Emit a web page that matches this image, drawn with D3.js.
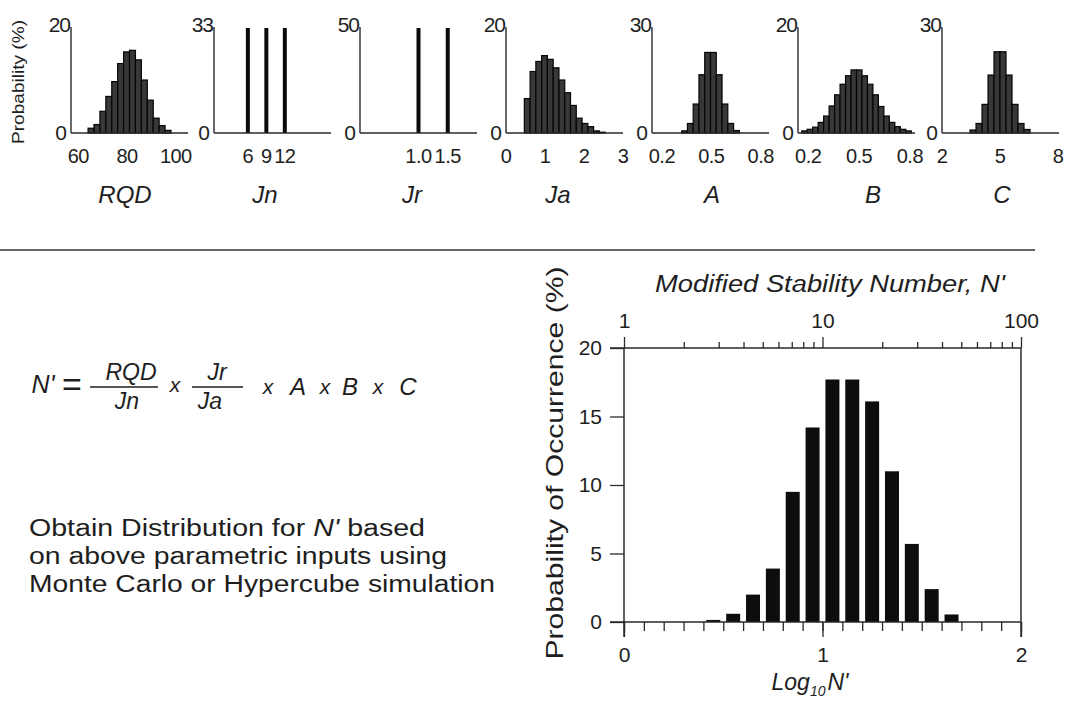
<!DOCTYPE html>
<html>
<head>
<meta charset="utf-8">
<script src="https://cdn.jsdelivr.net/npm/d3@7"></script>
<style>
  body { margin: 0; background: #fff; }
  svg { font-family: "Liberation Sans", Arial, sans-serif; }
  text { fill: #1e1e1e; }
</style>
</head>
<body>
<div id="chart"></div>
<script>
// ---- input distributions (top row) ----
var panelNames = ["RQD", "Jn", "Jr", "Ja", "A", "B", "C"];
var panelYMax = [20, 33, 50, 20, 30, 20, 30];
var panelTicks = [[60, 80, 100], [6, 9, 12], [1.0, 1.5], [0, 1, 2, 3], [0.2, 0.5, 0.8], [0.2, 0.5, 0.8], [2, 5, 8]];
var panelTickLabels = [["60", "80", "100"], ["6", "9", "12"], ["1.0", "1.5"], ["0", "1", "2", "3"], ["0.2", "0.5", "0.8"], ["0.2", "0.5", "0.8"], ["2", "5", "8"]];

var rqdStart = 64, rqdWidth = 2.43;
var rqdValues = [0.9, 1.6, 4.1, 6.9, 9.7, 13.1, 15.3, 15.6, 13.8, 10.0, 6.2, 2.8, 1.4, 0.5];
var jnValues = [6, 9, 12];
var jnProb = [33, 33, 33];
var jrValues = [1.0, 1.5];
var jrProb = [50, 50];
var jaStart = 0.47, jaWidth = 0.148;
var jaValues = [6.5, 11.6, 13.5, 14.6, 13.9, 12.3, 10.0, 7.6, 5.2, 2.8, 1.8, 1.2, 0.4, 0.15];
var aStart = 0.32, aWidth = 0.035;
var aValues = [0.6, 2.7, 8.2, 16.5, 22.8, 22.8, 16.5, 8.2, 2.7, 0.7];
var bStart = 0.162, bWidth = 0.0323;
var bValues = [0.4, 0.7, 1.1, 2.0, 3.2, 5.1, 7.2, 9.2, 10.8, 11.9, 11.9, 10.8, 9.2, 7.2, 5.0, 3.2, 2.0, 1.2, 0.7, 0.4];
var cStart = 3.45, cWidth = 0.31;
var cValues = [0.85, 2.7, 8.1, 16.4, 23.0, 23.0, 16.4, 8.1, 2.7, 1.0];

// ---- resulting distribution of N' (main chart) ----
var nBinStart = 0.4, nBinWidth = 0.1;
var nValues = [0.15, 0.6, 2.0, 3.9, 9.5, 14.2, 17.7, 17.7, 16.1, 11.0, 5.7, 2.4, 0.55];
var nYTicks = [0, 5, 10, 15, 20];
var nXTicks = [0, 1, 2];
var nTopTicks = [1, 10, 100];

// layout (pixels)
var panelLeft = [71, 214, 360, 506, 652, 798, 942];
var panelWidth = 117, panelTop = 27, panelBase = 133;
var panelDomains = [[57, 105], [0.5, 19.5], [0, 2], [0, 3], [0.14, 0.85], [0.14, 0.83], [2, 8.05]];
var nameX = [125, 265, 412, 558, 712, 873, 1002];

var ink = "#1e1e1e", lineCol = "#2a2a2a";

var svg = d3.select("#chart").append("svg")
	.attr("width", 1066)
	.attr("height", 702);

// histogram / spike descriptions built from the arrays above
var hist = {
	RQD: {start: rqdStart, width: rqdWidth, values: rqdValues},
	Ja: {start: jaStart, width: jaWidth, values: jaValues},
	A: {start: aStart, width: aWidth, values: aValues},
	B: {start: bStart, width: bWidth, values: bValues},
	C: {start: cStart, width: cWidth, values: cValues}
};
var spikes = {
	Jn: {x: jnValues, p: jnProb},
	Jr: {x: jrValues, p: jrProb}
};

panelNames.forEach(function(name, i) {
	var x = d3.scaleLinear().domain(panelDomains[i]).range([panelLeft[i], panelLeft[i] + panelWidth]);
	var y = d3.scaleLinear().domain([0, panelYMax[i]]).range([panelBase, panelTop]);
	var g = svg.append("g").attr("class", "panel");

	if (hist[name]) {
		var h = hist[name];
		g.selectAll("rect")
			.data(h.values)
			.enter()
			.append("rect")
			.attr("x", function(d, k) { return x(h.start + k * h.width); })
			.attr("width", function(d, k) { return x(h.start + (k + 1) * h.width) - x(h.start + k * h.width); })
			.attr("y", function(d) { return y(d); })
			.attr("height", function(d) { return y(0) - y(d); })
			.attr("fill", "#383838")
			.attr("stroke", "#050505")
			.attr("stroke-width", 1.2);
	} else {
		var s = spikes[name];
		g.selectAll("line.spike")
			.data(s.x)
			.enter()
			.append("line")
			.attr("class", "spike")
			.attr("x1", function(d) { return x(d); })
			.attr("x2", function(d) { return x(d); })
			.attr("y1", y(0))
			.attr("y2", function(d, k) { return y(s.p[k]) + 1; })
			.attr("stroke", "#0a0a0a")
			.attr("stroke-width", 4);
	}

	// axes
	g.append("line")
		.attr("x1", x.range()[0]).attr("x2", x.range()[0])
		.attr("y1", y(panelYMax[i])).attr("y2", y(0))
		.attr("stroke", lineCol).attr("stroke-width", 1.4);
	g.append("line")
		.attr("x1", x.range()[0]).attr("x2", x.range()[1])
		.attr("y1", y(0)).attr("y2", y(0))
		.attr("stroke", lineCol).attr("stroke-width", 1.4);

	// y labels: max and zero
	g.append("text")
		.attr("x", x.range()[0] - 1)
		.attr("y", y(panelYMax[i]) - 2)
		.attr("dy", "0.35em")
		.attr("text-anchor", "end")
		.attr("font-size", 21)
		.attr("letter-spacing", -1)
		.text(panelYMax[i]);
	g.append("text")
		.attr("x", x.range()[0] - 4)
		.attr("y", y(0))
		.attr("dy", "0.35em")
		.attr("text-anchor", "end")
		.attr("font-size", 21)
		.text("0");

	// x tick labels
	g.selectAll("text.tick")
		.data(panelTicks[i])
		.enter()
		.append("text")
		.attr("class", "tick")
		.attr("x", function(d) { return x(d); })
		.attr("y", 163)
		.attr("text-anchor", "middle")
		.attr("font-size", 20)
		.attr("letter-spacing", -0.5)
		.text(function(d, k) { return panelTickLabels[i][k]; });

	// variable name
	g.append("text")
		.attr("x", nameX[i])
		.attr("y", 203)
		.attr("text-anchor", "middle")
		.attr("font-size", 24)
		.attr("font-style", "italic")
		.text(name);
});

// shared y title for the top row
svg.append("text")
	.attr("transform", "translate(24,82) rotate(-90)")
	.attr("text-anchor", "middle")
	.attr("font-size", 17)
	.attr("textLength", 124)
	.attr("lengthAdjust", "spacingAndGlyphs")
	.text("Probability (%)");

// separator
svg.append("line")
	.attr("x1", 0).attr("x2", 1035)
	.attr("y1", 250).attr("y2", 250)
	.attr("stroke", "#333").attr("stroke-width", 1.4);

// ---- equation ----
var eq = svg.append("g").attr("font-style", "italic");
function eqText(str, x, y, size, anchor) {
	eq.append("text")
		.attr("x", x).attr("y", y)
		.attr("font-size", size)
		.attr("text-anchor", anchor || "middle")
		.text(str);
}
eqText("N'", 43, 393, 25);
eq.append("text").attr("x", 72).attr("y", 396).attr("font-size", 34).attr("font-style", "normal")
	.attr("text-anchor", "middle").text("=");
eqText("RQD", 131, 380, 23);
eqText("Jn", 127, 409, 23);
eqText("x", 175, 392, 21);
eqText("Jr", 217, 380, 23);
eqText("Ja", 210, 409, 23);
eqText("x", 268, 394, 21);
eqText("A", 298, 395, 24);
eqText("x", 325, 394, 21);
eqText("B", 350, 395, 24);
eqText("x", 378, 394, 21);
eqText("C", 408, 395, 24);
eq.append("line").attr("x1", 90).attr("x2", 158).attr("y1", 387).attr("y2", 387)
	.attr("stroke", ink).attr("stroke-width", 1.5);
eq.append("line").attr("x1", 192).attr("x2", 243).attr("y1", 387).attr("y2", 387)
	.attr("stroke", ink).attr("stroke-width", 1.5);

// description
var para = [
	{parts: [["Obtain Distribution for ", "normal"], ["N'", "italic"], [" based", "normal"]], len: 396},
	{parts: [["on above parametric inputs using", "normal"]], len: 418},
	{parts: [["Monte Carlo or Hypercube simulation", "normal"]], len: 466}
];
para.forEach(function(line, i) {
	var t = svg.append("text")
		.attr("x", 29)
		.attr("y", 536 + i * 28)
		.attr("font-size", 23)
		.attr("textLength", line.len)
		.attr("lengthAdjust", "spacingAndGlyphs");
	line.parts.forEach(function(p) {
		t.append("tspan").attr("font-style", p[1]).text(p[0]);
	});
});

// ---- main histogram ----
var mx = d3.scaleLinear().domain([0, 2]).range([624, 1021]);
var my = d3.scaleLinear().domain([0, 20]).range([622, 348]);
var mlog = d3.scaleLog().domain([1, 100]).range([624, 1021]);

var main = svg.append("g");

main.selectAll("rect.bar")
	.data(nValues)
	.enter()
	.append("rect")
	.attr("class", "bar")
	.attr("x", function(d, i) { return mx(nBinStart + (i + 0.5) * nBinWidth) - 7; })
	.attr("width", 14)
	.attr("y", function(d) { return my(d); })
	.attr("height", function(d) { return my(0) - my(d); })
	.attr("fill", "#0d0d0d");

// left axis
var yAxis = main.append("g")
	.attr("transform", "translate(" + mx(0) + ",0)")
	.call(d3.axisLeft(my).tickValues(nYTicks).tickSize(14).tickPadding(8).tickSizeOuter(0));
yAxis.select(".domain").remove();

// bottom axis: minor and major ticks
var minorX = d3.range(0, 21).map(function(k) { return k / 10; });
var xMinor = main.append("g")
	.attr("transform", "translate(0," + my(0) + ")")
	.call(d3.axisBottom(mx).tickValues(minorX).tickSize(9).tickFormat(""));
xMinor.select(".domain").remove();
var xMajor = main.append("g")
	.attr("transform", "translate(0," + my(0) + ")")
	.call(d3.axisBottom(mx).tickValues(nXTicks).tickSize(15).tickPadding(10).tickFormat(d3.format("d")));
xMajor.select(".domain").remove();

// top log axis
var minorTop = [2, 3, 4, 5, 6, 7, 8, 9, 20, 30, 40, 50, 60, 70, 80, 90];
var tMinor = main.append("g")
	.attr("transform", "translate(0," + my(20) + ")")
	.call(d3.axisTop(mlog).tickValues(minorTop).tickSize(6).tickFormat(""));
tMinor.select(".domain").remove();
var tMajor = main.append("g")
	.attr("transform", "translate(0," + my(20) + ")")
	.call(d3.axisTop(mlog).tickValues(nTopTicks).tickSize(11).tickPadding(9).tickFormat(d3.format("d")));
tMajor.select(".domain").remove();

main.selectAll(".tick line").attr("stroke", lineCol).attr("stroke-width", 1.3);
main.selectAll(".tick text").attr("font-size", 21).attr("fill", ink)
	.attr("font-family", "Liberation Sans, Arial, sans-serif");

// frame lines
var frame = [
	[mx(0) - 14, my(20), mx(2), my(20)],
	[mx(0) - 14, my(0), mx(2), my(0)],
	[mx(0), my(20), mx(0), my(0) + 15],
	[mx(2), my(20), mx(2), my(0) + 15]
];
main.selectAll("line.frame")
	.data(frame)
	.enter()
	.append("line")
	.attr("class", "frame")
	.attr("x1", function(d) { return d[0]; })
	.attr("y1", function(d) { return d[1]; })
	.attr("x2", function(d) { return d[2]; })
	.attr("y2", function(d) { return d[3]; })
	.attr("stroke", lineCol)
	.attr("stroke-width", 1.5);

// titles
svg.append("text")
	.attr("x", 830)
	.attr("y", 292)
	.attr("text-anchor", "middle")
	.attr("font-size", 23)
	.attr("font-style", "italic")
	.attr("textLength", 350)
	.attr("lengthAdjust", "spacingAndGlyphs")
	.text("Modified Stability Number, N'");

var xl = svg.append("text")
	.attr("x", 810)
	.attr("y", 690)
	.attr("text-anchor", "middle")
	.attr("font-size", 23)
	.attr("font-style", "italic");
xl.append("tspan").text("Log");
xl.append("tspan").attr("font-size", 14).attr("dy", 6).text("10");
xl.append("tspan").attr("dy", -6).attr("dx", 2).text("N'");

svg.append("text")
	.attr("transform", "translate(563,463) rotate(-90)")
	.attr("text-anchor", "middle")
	.attr("font-size", 24)
	.attr("textLength", 393)
	.attr("lengthAdjust", "spacingAndGlyphs")
	.text("Probability of Occurrence (%)");
</script>
</body>
</html>
